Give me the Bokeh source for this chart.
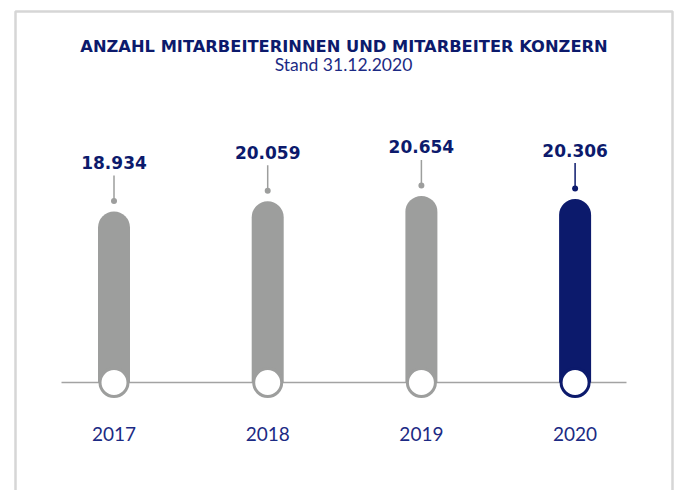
from bokeh.plotting import figure
from bokeh.models import ColumnDataSource, Label
from bokeh.core.properties import value
from bokeh.embed import file_html
from bokeh.resources import INLINE

# ---- data ----
years = [2017, 2018, 2019, 2020]
year_labels = ["2017", "2018", "2019", "2020"]
employees = [18934, 20059, 20654, 20306]
value_labels = ["18.934", "20.059", "20.654", "20.306"]
title_text = "ANZAHL MITARBEITERINNEN UND MITARBEITER KONZERN"
subtitle_text = "Stand 31.12.2020"

NAVY = "#0c1a6c"
GREY = "#9d9e9d"
bar_colors = [GREY, GREY, GREY, NAVY]

W, H = 678, 490
# scales (figure pixels)
px_per_year = 153.7
first_center_px = 113.5
baseline_px = 382.0
units_per_px = 110.7

x_start = years[0] - first_center_px / px_per_year
x_end = x_start + W / px_per_year
y_end = baseline_px * units_per_px
y_start = y_end - H * units_per_px

def dx(px):
    return px / px_per_year

def dy(px):
    return px * units_per_px

p = figure(width=W, height=H, x_range=(x_start, x_end), y_range=(y_start, y_end),
           output_backend="svg", toolbar_location=None, min_border=0)
p.axis.visible = False
p.grid.visible = False
p.outline_line_color = None
p.background_fill_color = "white"
p.border_fill_color = "white"

# frame border (left, top, right)
bx0 = x_start + dx(15)
bx1 = x_start + dx(672)
by_top = y_end - dy(11)
by_bot = y_start - dy(20)
p.line([bx0, bx0, bx1, bx1], [by_bot, by_top, by_top, by_bot], line_color="#d6d6d6", line_width=2.5)

# baseline
p.line([x_start + dx(61), x_start + dx(626)], [0, 0], line_color="#a3a3a3", line_width=1.5)

src = ColumnDataSource(dict(
    x=years, top=employees, color=bar_colors, lab=value_labels, yl=year_labels,
    dot=[v + dy(10.5) for v in employees],
    lt=[v + dy(36) for v in employees],
    ly=[v + dy(49) for v in employees],
    zero=[0] * len(years),
))

p.vbar(x="x", top="top", bottom="zero", width=dx(32), fill_color="color", line_color=None,
       border_radius=(16, 16, 0, 0), source=src)
p.scatter(x="x", y="zero", size=28, fill_color="white", line_color="color", line_width=3, source=src)

p.segment(x0="x", y0="dot", x1="x", y1="lt", line_color="color", line_width=1.5, source=src)
p.scatter(x="x", y="dot", size=6, fill_color="color", line_color=None, source=src)

p.text(x="x", y="ly", text="lab", text_align="center", text_baseline="alphabetic",
       text_font=value("DejaVu Sans"), text_font_style="bold", text_font_size="17px",
       text_color=NAVY, source=src)
p.text(x="x", y="zero", text="yl", text_align="center", text_baseline="middle",
       y_offset=51, text_font=value("Lato"), text_font_size="19px",
       text_color="#1c2a84", source=src)

p.add_layout(Label(x=343.5, y=H - 46, x_units="screen", y_units="screen", text=title_text,
                   text_align="center", text_baseline="alphabetic", text_font="DejaVu Sans",
                   text_font_style="bold", text_font_size="16.3px", text_color=NAVY))
p.add_layout(Label(x=343, y=H - 64, x_units="screen", y_units="screen", text=subtitle_text,
                   text_align="center", text_baseline="alphabetic", text_font="Lato",
                   text_font_size="17.5px", text_color="#1c2a84"))

open("out.html", "w").write(file_html(p, INLINE))
